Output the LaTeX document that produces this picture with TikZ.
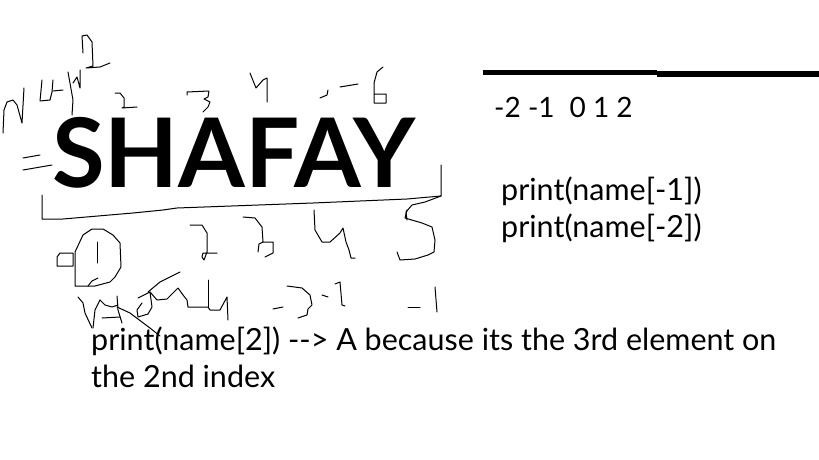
\documentclass[tikz,border=0pt]{standalone}
\usepackage{fontspec}
\setmainfont{Lato}
\usepackage{tikz}
\usetikzlibrary{positioning}

\begin{document}
\begin{tikzpicture}[
    x=1pt, y=-1pt,
    pen/.style={line width=1pt, line join=round, line cap=round},
    rule/.style={line width=4.6pt},
    word/.style={inner sep=0pt, anchor=base west},
    note/.style={word, font=\fontsize{30.5}{37}\selectfont, align=left}
]
\useasboundingbox[fill=white] (0,0) rectangle (819,460);

% ── Big name ──
\node[word, font=\fontsize{96}{100}\selectfont\bfseries] (big) at (52,187) {SHAFAY};

% ── Scribbled "name" and "=" ──
\draw[pen] (3,133) -- (4,110) -- (7,102) -- (13,100) -- (17,105) -- (22,123) -- (24,88);
\draw[pen] (42,80) -- (40,101) -- (50,100) -- (52,92) -- (53,80);
\draw[pen] (53,91) -- (63,90);
\draw[pen] (68,72) -- (73,100) -- (72,115);
\draw[pen] (73,83) -- (77,77) -- (80,88) -- (80,70);
\draw[pen] (83,53) -- (82,36) -- (87,35) -- (92,42) -- (93,66) -- (86,68) -- (100,67) -- (110,63);
\draw[pen] (23,158) -- (40,155);
\draw[pen] (23,170) -- (52,165);

% ── Positive indices above ──
\draw[pen] (115,93) -- (120,93) -- (124,98) -- (124,107) -- (122,108) -- (137,107);
\draw[pen] (187,95) -- (187,92) -- (209,91) -- (208,97) -- (204,99) -- (210,102) -- (208,107) -- (203,112);
\draw[pen] (250,73) -- (256,88) -- (263,80) -- (267,78) -- (267,102);
\draw[pen] (320,98) -- (327,95) -- (328,90);
\draw[pen] (340,87) -- (358,84);
\draw[pen] (383,67) -- (377,72) -- (374,83) -- (374,103) -- (386,103) -- (386,94) -- (374,94);

% ── Box round the name ──
\draw[pen] (42,195) -- (42,219) -- (63,219) -- (133,213) -- (163,210) -- (177,208)
    -- (313,203) -- (407,199) -- (441,196) -- (441,165);
\draw[pen] (407,220) -- (406,212) -- (412,205) -- (425,202) -- (441,196);

% ── Indices below ──
\draw[pen] (75,252) -- (83,235) -- (92,229) -- (103,229) -- (113,235) -- (120,243)
    -- (121,267) -- (115,277) -- (110,282) -- (95,286) -- (75,286) -- cycle;
\draw[pen] (97,242) -- (97,263);
\draw[pen] (88,286) -- (92,281) -- (98,278);
\draw[pen] (60,253) -- (73,253) -- (73,266) -- (57,266) -- (57,257) -- (60,253);
\draw[pen] (190,225) -- (202,225) -- (207,233) -- (207,252) -- (204,260) -- (202,257) -- (203,253) -- (217,253);
\draw[pen] (243,217) -- (255,218) -- (262,227) -- (263,242) -- (273,242) -- (273,253) -- (265,257);
\draw[pen] (263,242) -- (259,244) -- (258,252);
\draw[pen] (314,210) -- (315,230) -- (322,242) -- (330,242) -- (340,233) -- (343,228)
    -- (346,242) -- (349,250) -- (351,258) -- (355,258);
\draw[pen] (407,210) -- (405,218) -- (422,223) -- (432,227) -- (435,240) -- (434,252)
    -- (428,255) -- (415,259) -- (400,260) -- (397,252);

% ── Negative indices below ──
\draw[pen] (78,297) -- (83,303) -- (85,313) -- (92,328);
\draw[pen] (100,300) -- (95,310) -- (93,328);
\draw[pen] (100,300) -- (105,305) -- (112,307) -- (118,305);
\draw[pen] (102,318) -- (120,317);
\draw[pen] (117,296) -- (118,310) -- (122,323);
\draw[pen] (117,307) -- (130,313) -- (150,328) -- (160,336);
\draw[pen] (148,292) -- (160,282) -- (180,272);
\draw[pen] (138,298) -- (150,292) -- (152,307) -- (148,314) -- (138,317) -- (137,310) -- (142,303);
\draw[pen] (150,292) -- (157,300) -- (167,299) -- (178,288) -- (183,295) -- (187,300)
    -- (188,307) -- (208,307) -- (210,310) -- (220,310) -- (227,297) -- (228,320);
\draw[pen] (208,280) -- (208,307);
\draw[pen] (273,309) -- (283,307);
\draw[pen] (287,286) -- (302,288) -- (310,295) -- (312,305) -- (308,309) -- (307,315) -- (298,318);
\draw[pen] (322,295) -- (328,297);
\draw[pen] (335,284) -- (340,282) -- (342,305) -- (345,306);
\draw[pen] (408,307) -- (420,307);
\draw[pen] (435,287) -- (437,312);

% ── Right side ──
\draw[rule] (483,72.8) -- (657,72.8);
\draw[rule, line width=5pt] (657,74) -- (819,74);
\node[word, font=\fontsize{28}{32}\selectfont] (negidx) at (494,117) {-2 -1\; 0 1 2};
\node[note] (prints) at (501,237) {print(name[-1])\\print(name[-2])};

% ── Explanation ──
\node[note] (answer) at (91,387) {print(name[2]) {-}{-}> A because its the 3rd element on\\the 2nd index};

\end{tikzpicture}
\end{document}
